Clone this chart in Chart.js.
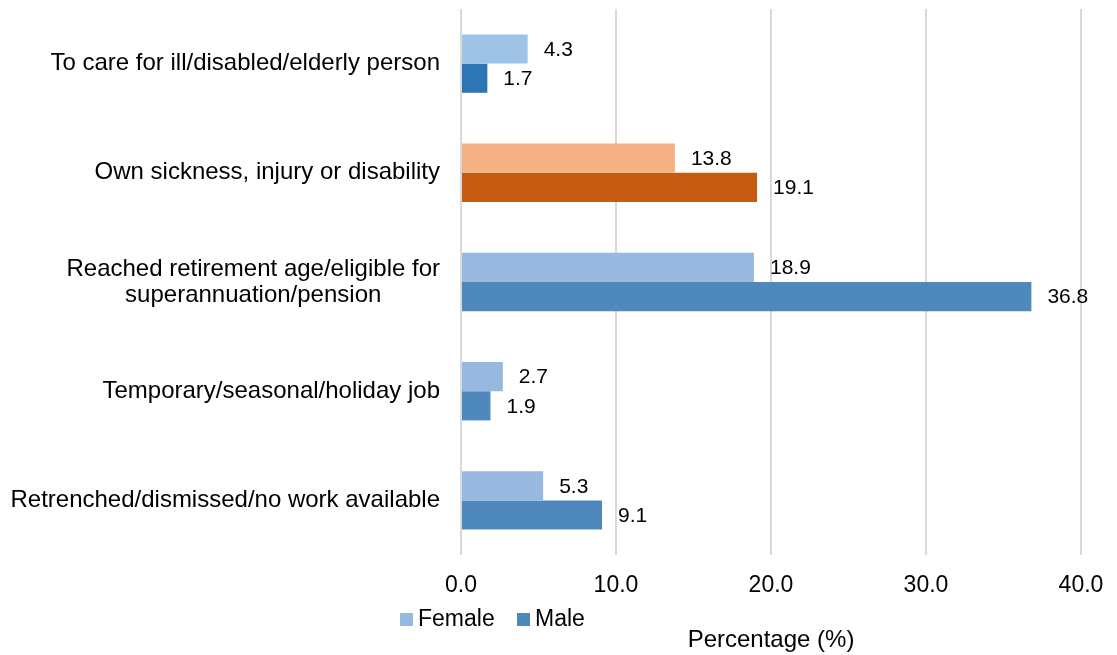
<!DOCTYPE html>
<html>
<head>
<meta charset="utf-8">
<script src="https://cdn.jsdelivr.net/npm/chart.js@4"></script>
<style>
  html, body { margin: 0; padding: 0; background: #fff; }
  #wrap { width: 1117px; height: 655px; }
</style>
</head>
<body>
<div id="wrap"><canvas id="chart"></canvas></div>
<script>
const categories = [
  ['To care for ill/disabled/elderly person'],
  ['Own sickness, injury or disability'],
  ['Reached retirement age/eligible for', 'superannuation/pension'],
  ['Temporary/seasonal/holiday job'],
  ['Retrenched/dismissed/no work available']
];
const female = [4.3, 13.8, 18.9, 2.7, 5.3];
const male = [1.7, 19.1, 36.8, 1.9, 9.1];
const femaleColors = ['#9DC3E6', '#F4B183', '#97B9DF', '#97B9DF', '#97B9DF'];
const maleColors = ['#2E75B6', '#C55A11', '#4F89BC', '#4F89BC', '#4F89BC'];
const xTicks = [0, 10, 20, 30, 40];

const FONT = 'Arial, "Liberation Sans", sans-serif';

// labels drawn next to each bar end
const valueLabels = {
  id: 'valueLabels',
  afterDatasetsDraw(chart) {
    const ctx = chart.ctx;
    ctx.save();
    ctx.font = '21px ' + FONT;
    ctx.fillStyle = '#000';
    ctx.textAlign = 'left';
    ctx.textBaseline = 'middle';
    chart.data.datasets.forEach((ds, i) => {
      chart.getDatasetMeta(i).data.forEach((bar, j) => {
        ctx.fillText(ds.data[j].toFixed(1), bar.x + 16, bar.y + 1);
      });
    });
    ctx.restore();
  }
};

// category labels: right aligned block, lines centred within it
const catLabels = {
  id: 'catLabels',
  afterDraw(chart) {
    const ctx = chart.ctx;
    const y = chart.scales.y;
    const right = chart.chartArea.left - 21;
    ctx.save();
    ctx.font = '24px ' + FONT;
    ctx.fillStyle = '#000';
    ctx.textAlign = 'center';
    ctx.textBaseline = 'middle';
    categories.forEach((lines, i) => {
      const cy = y.getPixelForTick(i);
      const widest = Math.max(...lines.map(l => ctx.measureText(l).width));
      const cx = right - widest / 2;
      const lh = 26;
      lines.forEach((l, k) => {
        ctx.fillText(l, cx, cy + (k - (lines.length - 1) / 2) * lh);
      });
    });
    ctx.restore();
  }
};

// legend sits between tick labels and axis title
const customLegend = {
  id: 'customLegend',
  afterDraw(chart) {
    const ctx = chart.ctx;
    const items = [
      { text: 'Female', color: femaleColors[2], x: 400 },
      { text: 'Male', color: maleColors[2], x: 517 }
    ];
    ctx.save();
    ctx.font = '23px ' + FONT;
    ctx.textBaseline = 'middle';
    ctx.textAlign = 'left';
    items.forEach(it => {
      ctx.fillStyle = it.color;
      ctx.fillRect(it.x, 613, 13, 13);
      ctx.fillStyle = '#000';
      ctx.fillText(it.text, it.x + 18, 620);
    });
    ctx.restore();
  }
};

new Chart(document.getElementById('chart'), {
  type: 'bar',
  data: {
    labels: categories,
    datasets: [
      { label: 'Female', data: female, backgroundColor: femaleColors, barPercentage: 1, categoryPercentage: 0.535 },
      { label: 'Male', data: male, backgroundColor: maleColors, barPercentage: 1, categoryPercentage: 0.535 }
    ]
  },
  options: {
    indexAxis: 'y',
    responsive: true,
    maintainAspectRatio: false,
    animation: false,
    layout: { padding: { top: 9, right: 36, left: 0, bottom: 0 } },
    scales: {
      x: {
        min: 0,
        max: 40,
        afterBuildTicks: (scale) => { scale.ticks = xTicks.map(v => ({ value: v })); },
        afterFit: (scale) => {
          scale.height = 100;
          scale.paddingLeft = 0;
          scale.paddingRight = 0;
        },
        grid: { color: '#D9D9D9', lineWidth: 2, drawTicks: false },
        border: { display: false },
        ticks: {
          padding: 17,
          color: '#000',
          font: { size: 23, family: FONT },
          callback: (v) => Number(v).toFixed(1)
        },
        title: {
          display: true,
          text: 'Percentage (%)',
          color: '#000',
          font: { size: 24, family: FONT },
          padding: { top: 0, bottom: 0 }
        }
      },
      y: {
        afterFit: (scale) => { scale.width = 461; },
        grid: { display: false },
        border: { display: false },
        ticks: { display: false }
      }
    },
    plugins: {
      legend: { display: false },
      tooltip: { enabled: false }
    }
  },
  plugins: [valueLabels, catLabels, customLegend]
});
</script>
</body>
</html>
